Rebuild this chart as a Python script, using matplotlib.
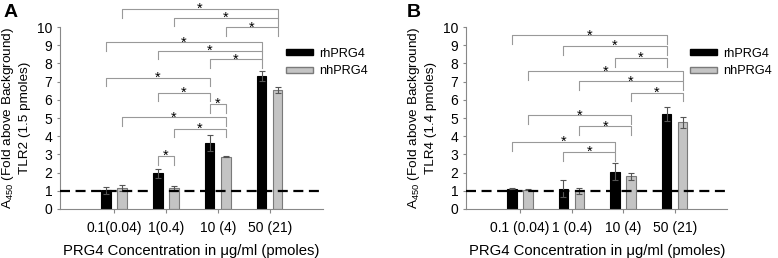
import matplotlib
matplotlib.use("Agg")
import matplotlib.pyplot as plt
from matplotlib.patches import Patch

plt.rcParams['font.family'] = ['Liberation Sans', 'DejaVu Sans']
plt.rcParams['mathtext.fontset'] = 'custom'
plt.rcParams['mathtext.rm'] = 'Liberation Sans'
plt.rcParams['mathtext.it'] = 'Liberation Sans:italic'

series_names = ["rhPRG4", "nhPRG4"]

labels_A = ["0.1(0.04)", "1(0.4)", "10 (4)", "50 (21)"]
rh_A = [1.03, 1.97, 3.65, 7.30]
rh_A_err = [0.18, 0.24, 0.44, 0.26]
nh_A = [1.17, 1.15, 2.88, 6.55]
nh_A_err = [0.16, 0.14, 0.03, 0.17]

labels_B = ["0.1 (0.04)", "1 (0.4)", "10 (4)", "50 (21)"]
rh_B = [1.12, 1.12, 2.05, 5.22]
rh_B_err = [0.02, 0.47, 0.47, 0.40]
nh_B = [1.07, 1.00, 1.80, 4.76]
nh_B_err = [0.02, 0.17, 0.20, 0.30]

# brackets: (group1, series1, group2, series2, height)
brackets_A = [
    (1, 0, 1, 1, 2.90), (0, 1, 2, 1, 5.04), (1, 1, 2, 1, 4.40),
    (2, 0, 2, 1, 5.77), (1, 0, 2, 0, 6.39), (0, 0, 2, 0, 7.21),
    (2, 0, 3, 0, 8.22), (1, 0, 3, 0, 8.70), (0, 0, 3, 0, 9.16),
    (2, 1, 3, 1, 9.98), (1, 1, 3, 1, 10.51), (0, 1, 3, 1, 10.99),
]
brackets_B = [
    (0, 0, 3, 0, 9.54), (1, 0, 3, 0, 8.96), (2, 0, 3, 0, 8.29),
    (0, 1, 3, 1, 7.56), (1, 1, 3, 1, 7.01), (2, 1, 3, 1, 6.39),
    (0, 1, 2, 1, 5.14), (1, 1, 2, 1, 4.54),
    (0, 0, 2, 0, 3.68), (1, 0, 2, 0, 3.13),
]

ylabel2_A = "TLR2 (1.5 pmoles)"
ylabel2_B = "TLR4 (1.4 pmoles)"
xlabel = "PRG4 Concentration in \u03bcg/ml (pmoles)"

offsets = [-0.16, 0.15]
width = 0.18
fills = ["#000000", "#c4c4c4"]
edges = ["#000000", "#7a7a7a"]

fig = plt.figure(figsize=(7.78, 2.58), dpi=100)
axA = fig.add_axes([0.077, 0.19, 0.338, 0.705])
axB = fig.add_axes([0.599, 0.19, 0.336, 0.705])


def draw(ax, labels, rh, rh_err, nh, nh_err, brackets, ylab2, letter, lx):
    vals = [(rh, rh_err), (nh, nh_err)]
    x = list(range(len(labels)))
    for s, (v, e) in enumerate(vals):
        xs = [xi + offsets[s] for xi in x]
        ax.bar(xs, v, width=width, color=fills[s], edgecolor=edges[s],
               linewidth=0.8, label=series_names[s], zorder=2)
        ax.errorbar(xs, v, yerr=e, fmt='none', ecolor='#555555',
                    elinewidth=0.8, capsize=2.5, capthick=0.8, zorder=3)
    ax.axhline(1, color='black', lw=1.6, ls=(0, (4.5, 2.5)), zorder=4)
    ax.set_xlim(-1.05, 4.02)
    ax.set_ylim(0, 10)
    ax.set_yticks(range(0, 11))
    ax.set_xticks(x)
    ax.set_xticklabels(labels, fontsize=10)
    ax.tick_params(axis='y', labelsize=10, length=2.5, color='#888888', pad=3)
    ax.tick_params(axis='x', length=3, color='#888888', pad=6)
    for sp in ['top', 'right']:
        ax.spines[sp].set_visible(False)
    for sp in ['left', 'bottom']:
        ax.spines[sp].set_color('#888888')
        ax.spines[sp].set_linewidth(0.8)
    ax.set_xlabel(xlabel, fontsize=10.7, labelpad=6)
    ax.set_ylabel("A$_{450}$ (Fold above Background)\n" + ylab2,
                  fontsize=9.7, linespacing=1.35, labelpad=4)
    leg = 0.47
    for g1, s1, g2, s2, h in brackets:
        x1 = g1 + offsets[s1]
        x2 = g2 + offsets[s2]
        ax.plot([x1, x1, x2, x2], [h - leg, h, h, h - leg], color='#999999',
                lw=0.8, clip_on=False, zorder=1)
        ax.text((x1 + x2) / 2, h - 0.22, '*', ha='center', va='baseline',
                fontsize=10.5, clip_on=False)
    fig.text(lx, 0.985, letter, fontsize=14, fontweight='bold',
             ha='left', va='top')


draw(axA, labels_A, rh_A, rh_A_err, nh_A, nh_A_err, brackets_A, ylabel2_A, "A", 0.004)
draw(axB, labels_B, rh_B, rh_B_err, nh_B, nh_B_err, brackets_B, ylabel2_B, "B", 0.523)

handles = [Patch(facecolor=fills[i], edgecolor=edges[i], label=series_names[i])
           for i in range(2)]
for bx in [0.3676, 0.887]:
    fig.legend(handles=handles, loc='center left', bbox_to_anchor=(bx, 0.758),
               frameon=False, fontsize=9.2, handlelength=2.1, handleheight=0.35,
               handletextpad=0.5, labelspacing=0.45, borderaxespad=0,
               borderpad=0)

fig.savefig("out.png", dpi=100)
